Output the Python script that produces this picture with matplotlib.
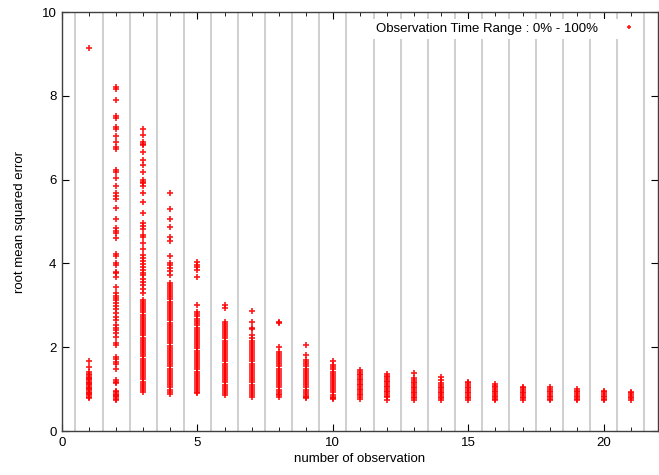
import matplotlib
matplotlib.use("Agg")
import matplotlib.pyplot as plt

# valori: RMSE per numero di osservazioni
rmse_1 = [9.15, 1.66, 1.53, 1.40, 1.36, 1.33, 1.30, 1.27, 1.24, 1.21, 1.18, 1.15, 1.12, 1.09,
          1.06, 1.03, 1.00, 0.97, 0.94, 0.91, 0.88, 0.85, 0.82, 0.79]
rmse_2 = [8.21, 8.16, 7.90, 7.51, 7.47, 7.26, 7.20, 7.04, 6.90, 6.79, 6.73, 6.23, 6.19, 6.05,
          5.86, 5.69, 5.61, 5.53, 5.32, 5.07, 4.84, 4.78, 4.72, 4.60, 4.22, 4.18, 4.02, 3.96,
          3.80, 3.76, 3.68, 3.43, 3.29, 3.23, 3.17, 3.12, 3.06, 2.98, 2.91, 2.81, 2.71, 2.65,
          2.53, 2.47, 2.41, 2.33, 2.25, 2.11, 2.05, 1.77, 1.71, 1.65, 1.60, 1.47, 1.22, 1.18,
          1.15, 0.95, 0.92, 0.89, 0.86, 0.83, 0.80, 0.77, 0.74]
rmse_3 = [7.22, 7.07, 6.90, 6.86, 6.82, 6.66, 6.47, 6.34, 6.18, 5.99, 5.95, 5.91, 5.85, 5.69,
          5.47, 5.20, 4.97, 4.89, 4.83, 4.68, 4.64, 4.48, 4.34, 4.20, 4.12, 4.05, 3.98, 3.91,
          3.85, 3.78, 3.72, 3.64, 3.56, 3.48, 3.40, 3.30, 3.13, 3.08, 3.03, 2.98, 2.93, 2.88,
          2.83, 2.78, 2.73, 2.68, 2.63, 2.58, 2.53, 2.48, 2.43, 2.38, 2.33, 2.28, 2.23, 2.18,
          2.13, 2.08, 2.03, 1.98, 1.93, 1.88, 1.83, 1.78, 1.73, 1.68, 1.63, 1.58, 1.53, 1.48,
          1.43, 1.38, 1.33, 1.28, 1.23, 1.18, 1.13, 1.08, 1.03, 0.98, 0.94]
rmse_4 = [5.67, 5.31, 5.05, 4.88, 4.62, 4.54, 4.18, 4.02, 3.96, 3.88, 3.83, 3.72, 3.54, 3.49,
          3.44, 3.39, 3.34, 3.29, 3.24, 3.19, 3.14, 3.09, 3.04, 2.99, 2.94, 2.89, 2.84, 2.79,
          2.74, 2.69, 2.64, 2.59, 2.54, 2.49, 2.44, 2.39, 2.34, 2.29, 2.24, 2.19, 2.14, 2.09,
          2.04, 1.99, 1.94, 1.89, 1.84, 1.79, 1.74, 1.69, 1.64, 1.59, 1.54, 1.49, 1.44, 1.39,
          1.34, 1.29, 1.24, 1.19, 1.14, 1.09, 1.04, 0.99, 0.94, 0.89]
rmse_5 = [4.04, 3.96, 3.92, 3.84, 3.68, 3.01, 2.85, 2.79, 2.74, 2.68, 2.62, 2.57, 2.52, 2.47,
          2.42, 2.37, 2.32, 2.27, 2.22, 2.17, 2.12, 2.07, 2.02, 1.97, 1.92, 1.87, 1.82, 1.77,
          1.72, 1.67, 1.62, 1.57, 1.52, 1.47, 1.42, 1.37, 1.32, 1.27, 1.22, 1.17, 1.12, 1.07,
          1.02, 0.97, 0.93, 0.90]
rmse_6 = [3.01, 2.93, 2.61, 2.56, 2.51, 2.46, 2.41, 2.36, 2.31, 2.26, 2.21, 2.16, 2.11, 2.06,
          2.01, 1.96, 1.91, 1.86, 1.81, 1.76, 1.71, 1.66, 1.61, 1.56, 1.51, 1.46, 1.41, 1.36,
          1.31, 1.26, 1.21, 1.16, 1.11, 1.06, 1.01, 0.96, 0.91, 0.86]
rmse_7 = [2.86, 2.61, 2.47, 2.43, 2.29, 2.21, 2.16, 2.11, 2.06, 2.01, 1.96, 1.91, 1.86, 1.81,
          1.76, 1.71, 1.66, 1.61, 1.56, 1.51, 1.46, 1.41, 1.36, 1.31, 1.26, 1.21, 1.16, 1.11,
          1.06, 1.01, 0.96, 0.91, 0.86, 0.82]
rmse_8 = [2.61, 2.58, 2.01, 1.89, 1.84, 1.79, 1.74, 1.69, 1.64, 1.59, 1.54, 1.49, 1.44, 1.39,
          1.34, 1.29, 1.24, 1.19, 1.14, 1.09, 1.04, 0.99, 0.94, 0.89, 0.85, 0.82]
rmse_9 = [2.05, 1.81, 1.69, 1.64, 1.59, 1.54, 1.49, 1.44, 1.39, 1.34, 1.29, 1.24, 1.19, 1.14,
          1.09, 1.04, 0.99, 0.94, 0.89, 0.84, 0.80, 0.78]
rmse_10 = [1.68, 1.57, 1.52, 1.47, 1.42, 1.37, 1.32, 1.27, 1.22, 1.17, 1.12, 1.07, 1.02, 0.97,
           0.92, 0.87, 0.82, 0.79, 0.76]
rmse_11 = [1.46, 1.41, 1.37, 1.33, 1.29, 1.25, 1.21, 1.17, 1.13, 1.09, 1.05, 1.01, 0.97, 0.93,
           0.89, 0.85, 0.81, 0.77]
rmse_12 = [1.36, 1.32, 1.28, 1.24, 1.20, 1.16, 1.12, 1.08, 1.04, 1.00, 0.96, 0.92, 0.88, 0.84,
           0.80, 0.75]
rmse_13 = [1.39, 1.26, 1.22, 1.18, 1.14, 1.10, 1.06, 1.02, 0.98, 0.94, 0.90, 0.86, 0.82, 0.78, 0.75]
rmse_14 = [1.30, 1.22, 1.15, 1.10, 1.06, 1.02, 0.98, 0.94, 0.90, 0.86, 0.82, 0.78, 0.75]
rmse_15 = [1.18, 1.14, 1.10, 1.06, 1.02, 0.98, 0.94, 0.90, 0.86, 0.82, 0.78, 0.75]
rmse_16 = [1.12, 1.07, 1.04, 1.00, 0.96, 0.92, 0.88, 0.84, 0.80, 0.77, 0.74]
rmse_17 = [1.06, 1.02, 0.98, 0.94, 0.90, 0.86, 0.82, 0.78, 0.74]
rmse_18 = [1.04, 1.00, 0.96, 0.92, 0.88, 0.84, 0.80, 0.77, 0.74]
rmse_19 = [1.00, 0.96, 0.92, 0.88, 0.84, 0.80, 0.77, 0.75]
rmse_20 = [0.96, 0.92, 0.88, 0.84, 0.80, 0.77, 0.74]
rmse_21 = [0.94, 0.90, 0.86, 0.82, 0.78, 0.74]

columns = [rmse_1, rmse_2, rmse_3, rmse_4, rmse_5, rmse_6, rmse_7, rmse_8, rmse_9, rmse_10,
           rmse_11, rmse_12, rmse_13, rmse_14, rmse_15, rmse_16, rmse_17, rmse_18, rmse_19,
           rmse_20, rmse_21]
n_obs = list(range(1, len(columns) + 1))

label = "Observation Time Range : 0% - 100%"

plt.rcParams['font.family'] = ['Liberation Sans', 'DejaVu Sans']
fig = plt.figure(figsize=(6.59, 4.75), dpi=100)
ax = fig.add_axes([0.094, 0.0926, 0.9045, 0.882])

# Si costruiscono i punti
xs, ys = [], []
for n, col in zip(n_obs, columns):
    xs += [n] * len(col)
    ys += col

# linee verticali di separazione
for n in n_obs:
    ax.axvline(n - 0.5, color='#cccccc', lw=1.3, zorder=0)
ax.axvline(n_obs[-1] + 0.5, color='#cccccc', lw=1.3, zorder=0)

ax.plot(xs, ys, linestyle='none', marker='+', markersize=4.8, mew=1.2,
        color='#ff0000', alpha=0.9, label=label, zorder=2)

ax.set_xlim(0, 22)
ax.set_ylim(0, 10)
ax.set_xticks([0, 5, 10, 15, 20])
ax.set_xticks(range(0, 23), minor=True)
ax.set_yticks([0, 2, 4, 6, 8, 10])
ax.tick_params(axis='both', which='both', direction='in', top=True, right=True,
               labelsize=9.5, pad=4)
ax.tick_params(which='major', length=5)
ax.tick_params(which='minor', length=3)
for s in ax.spines.values():
    s.set_linewidth(1.0)
    s.set_color('#404040')

ax.set_xlabel("number of observation", fontsize=9.5, labelpad=3)
ax.set_ylabel("root mean squared error", fontsize=9.5, labelpad=11)

leg = ax.legend(loc='upper right', markerfirst=False, frameon=True, fancybox=False,
                framealpha=1.0, edgecolor='none', facecolor='white', fontsize=9.5,
                borderpad=0.3, handlelength=1.5, handletextpad=1.6,
                bbox_to_anchor=(0.985, 1.0))
leg.legend_handles[0].set_markersize(3)

plt.savefig("out.png", dpi=100)
plt.close()
